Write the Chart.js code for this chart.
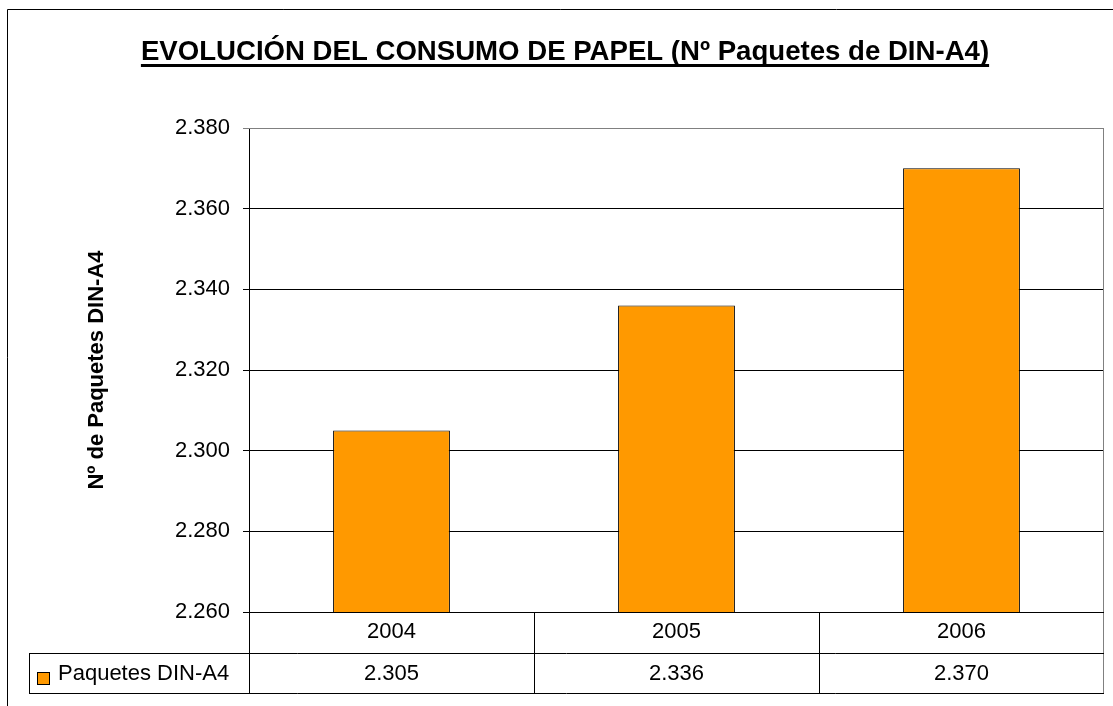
<!DOCTYPE html>
<html>
<head>
<meta charset="utf-8">
<script src="https://cdn.jsdelivr.net/npm/chart.js@4.4.1/dist/chart.umd.min.js"></script>
<style>
  html, body { margin: 0; padding: 0; background: #ffffff; }
  #wrap { position: relative; width: 1113px; height: 706px; }
</style>
</head>
<body>
<div id="wrap"><canvas id="c"></canvas></div>
<script>
const chartTitle = 'EVOLUCIÓN DEL CONSUMO DE PAPEL (Nº Paquetes de DIN-A4)';
const yAxisTitle = 'Nº de Paquetes DIN-A4';
const seriesName = 'Paquetes DIN-A4';
const categories = ['2004', '2005', '2006'];
const paquetes = [2305, 2336, 2370];
const yMin = 2260, yMax = 2380, yStep = 20;

const FONT = "'Liberation Sans', Arial, Helvetica, sans-serif";
const ORANGE = '#FF9900';
const TITLE_SIZE = 27.6;

function fmt(v) {
  const s = String(Math.round(v));
  return s.replace(/\B(?=(\d{3})+(?!\d))/g, '.');
}

const tablePlugin = {
  id: 'dataTable',
  afterDraw(chart) {
    const ctx = chart.ctx;
    const ca = chart.chartArea;
    const xs = chart.scales.x;
    const L = ca.left, R = ca.right, B = ca.bottom;
    const row1 = B + 41, row2 = B + 81;
    const legLeft = 29;
    ctx.save();
    // outer frame
    ctx.strokeStyle = '#000000';
    ctx.lineWidth = 1;
    ctx.beginPath();
    ctx.moveTo(7.5, 706); ctx.lineTo(7.5, 9.5); ctx.lineTo(1113, 9.5);
    ctx.stroke();
    // plot area border (top/right, grey)
    ctx.strokeStyle = '#808080';
    ctx.beginPath();
    ctx.moveTo(L, ca.top + 0.5); ctx.lineTo(R - 0.5, ca.top + 0.5); ctx.lineTo(R - 0.5, row2 + 0.5);
    ctx.stroke();
    // table lines
    ctx.strokeStyle = '#000000';
    ctx.beginPath();
    ctx.moveTo(L, B + 0.5); ctx.lineTo(R, B + 0.5);
    ctx.moveTo(legLeft, row1 + 0.5); ctx.lineTo(R, row1 + 0.5);
    ctx.moveTo(legLeft, row2 + 0.5); ctx.lineTo(R, row2 + 0.5);
    ctx.moveTo(legLeft + 0.5, row1); ctx.lineTo(legLeft + 0.5, row2);
    ctx.moveTo(L + 0.5, B); ctx.lineTo(L + 0.5, row2);
    for (let i = 0; i < categories.length - 1; i++) {
      const xb = Math.round((xs.getPixelForValue(i) + xs.getPixelForValue(i + 1)) / 2) + 0.5;
      ctx.moveTo(xb, B); ctx.lineTo(xb, row2);
    }
    ctx.stroke();
    // values row
    ctx.fillStyle = '#000000';
    ctx.font = '22px ' + FONT;
    ctx.textAlign = 'center';
    ctx.textBaseline = 'middle';
    const vy = (row1 + row2) / 2 + 1;
    paquetes.forEach((v, i) => {
      ctx.fillText(fmt(v), xs.getPixelForValue(i), vy);
    });
    // legend key
    ctx.fillStyle = ORANGE;
    ctx.fillRect(37, 672, 12, 12);
    ctx.strokeStyle = '#000000';
    ctx.strokeRect(37.5, 672.5, 12, 12);
    ctx.fillStyle = '#000000';
    ctx.textAlign = 'left';
    ctx.fillText(seriesName, 58, vy);
    // title underline
    ctx.font = 'bold ' + TITLE_SIZE + 'px ' + FONT;
    const tw = ctx.measureText(chartTitle).width;
    const cx = (26 + (chart.width - 9)) / 2;
    ctx.fillRect(cx - tw / 2, 64, tw, 3);
    ctx.restore();
  }
};

new Chart(document.getElementById('c'), {
  type: 'bar',
  data: {
    labels: categories,
    datasets: [{
      label: seriesName,
      data: paquetes,
      backgroundColor: ORANGE,
      borderColor: '#000000',
      borderWidth: 1,
      borderSkipped: false,
      barPercentage: 0.41,
      categoryPercentage: 1.0
    }]
  },
  options: {
    responsive: true,
    maintainAspectRatio: false,
    animation: false,
    layout: { padding: { left: 26, right: 9, top: 0, bottom: 0 } },
    plugins: {
      legend: { display: false },
      tooltip: { enabled: false },
      title: {
        display: true,
        text: chartTitle,
        color: '#000000',
        font: { family: FONT, size: TITLE_SIZE, weight: 'bold', lineHeight: 1.2 },
        padding: { top: 36, bottom: 128 - 36 - TITLE_SIZE * 1.2 }
      }
    },
    scales: {
      x: {
        grid: { display: false, drawTicks: false },
        border: { display: false },
        ticks: {
          color: '#000000',
          font: { family: FONT, size: 22 },
          padding: 7,
          maxRotation: 0
        },
        afterFit(s) { s.height = 94; }
      },
      y: {
        min: yMin,
        max: yMax,
        ticks: {
          stepSize: yStep,
          color: '#000000',
          font: { family: FONT, size: 22 },
          padding: 13,
          callback: (v) => fmt(v)
        },
        grid: {
          color: (c) => (c.tick && c.tick.value === yMax ? '#808080' : '#000000'),
          lineWidth: 1,
          drawTicks: true,
          tickLength: 6
        },
        border: { display: true, color: '#000000', width: 1 },
        title: {
          display: true,
          text: yAxisTitle,
          color: '#000000',
          font: { family: FONT, size: 22, weight: 'bold' },
          padding: { top: 58, bottom: 0 }
        },
        afterFit(s) { s.width = 223; }
      }
    }
  },
  plugins: [tablePlugin]
});
</script>
</body>
</html>
